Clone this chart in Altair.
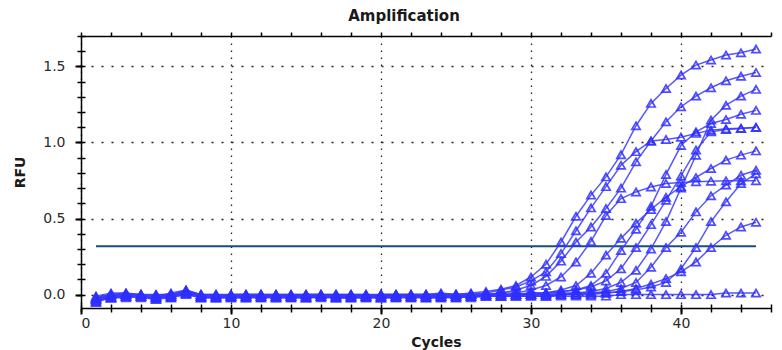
import altair as alt
import pandas as pd

cycles = list(range(1, 46))

curve_A = [-0.03, 0.00, 0.01, -0.01, 0.00, -0.01, 0.02, 0.00, -0.01, 0.00,
           0.00, -0.01, 0.00, 0.00, -0.01, 0.00, -0.01, 0.00, 0.00, -0.01,
           0.00, 0.00, 0.00, 0.01, 0.00,
           0.01, 0.02, 0.035, 0.06, 0.116, 0.20, 0.346, 0.515, 0.654, 0.774,
           0.92, 1.11, 1.257, 1.355, 1.443, 1.509, 1.542, 1.575, 1.59, 1.614]
curve_E = [-0.05, -0.01, 0.00, 0.00, -0.02, 0.00, 0.01, -0.01, 0.00, -0.01,
           -0.01, 0.00, -0.01, -0.01, 0.00, -0.01, 0.00, -0.01, -0.01, 0.00,
           -0.01, 0.00, -0.01, 0.00, 0.00, 0.00,
           0.01, 0.03, 0.05, 0.09, 0.15, 0.27, 0.42, 0.57, 0.71, 0.85, 0.94,
           1.01, 1.02, 1.035, 1.06, 1.08, 1.09, 1.093, 1.098]
curve_B = [-0.02, -0.02, -0.01, 0.00, -0.01, -0.02, 0.01, -0.01, -0.02, -0.01,
           -0.01, -0.02, -0.01, -0.01, -0.02, -0.01, -0.02, -0.01, -0.01, -0.02,
           -0.01, -0.01, -0.02, -0.01, -0.01, 0.00, 0.00,
           0.01, 0.03, 0.06, 0.12, 0.22, 0.346, 0.445, 0.566, 0.70, 0.873,
           1.01, 1.136, 1.235, 1.305, 1.36, 1.406, 1.436, 1.46]
curve_F = [-0.03, -0.01, 0.00, -0.01, -0.01, 0.01, 0.03, 0.00, -0.01, 0.00,
           0.00, 0.00, -0.01, 0.00, 0.00, 0.00, -0.01, 0.00, -0.01, 0.00,
           0.00, -0.01, 0.00, 0.00, 0.00, 0.00, 0.00, 0.01,
           0.01, 0.03, 0.06, 0.116, 0.215, 0.35, 0.52, 0.631, 0.675, 0.708,
           0.73, 0.737, 0.742, 0.745, 0.748, 0.748, 0.748]
curve_D = [-0.02, 0.00, -0.01, -0.01, -0.02, 0.00, 0.02, -0.01, -0.01, -0.01,
           -0.01, -0.01, 0.00, -0.01, -0.01, -0.01, 0.00, -0.01, -0.01, -0.01,
           -0.01, -0.01, -0.01, -0.01, 0.00, -0.01, 0.00, 0.00, 0.00, 0.01,
           0.01, 0.02,
           0.03, 0.06, 0.14, 0.29, 0.43, 0.58, 0.79, 0.98, 1.07, 1.125, 1.151,
           1.186, 1.211]
curve_H = [-0.04, -0.02, -0.01, -0.02, -0.03, -0.01, 0.01, -0.02, -0.02, -0.02,
           -0.02, -0.02, -0.02, -0.02, -0.02, -0.02, -0.02, -0.02, -0.02, -0.02,
           -0.02, -0.02, -0.02, -0.02, -0.02, -0.01, -0.01, -0.01, 0.00, 0.00,
           0.01, 0.03, 0.06, 0.14, 0.26, 0.37, 0.47, 0.56, 0.64, 0.71, 0.77,
           0.829, 0.884, 0.917, 0.945]
curve_G = [-0.01, 0.01, 0.01, 0.00, 0.00, 0.00, 0.02, 0.00, 0.00, 0.00,
           0.00, 0.00, 0.00, 0.00, 0.00, 0.00, 0.00, 0.00, 0.00, 0.00,
           0.00, 0.00, 0.00, 0.00, 0.00, 0.00, 0.00, 0.00, 0.00, 0.01, 0.01,
           0.02, 0.03,
           0.05, 0.09, 0.17, 0.31, 0.46, 0.62, 0.78, 0.95, 1.07, 1.085, 1.092,
           1.10]
curve_C = [-0.02, -0.01, 0.00, -0.01, -0.01, -0.01, 0.01, -0.01, -0.01, -0.01,
           -0.01, 0.00, -0.01, -0.01, -0.01, 0.00, -0.01, -0.01, 0.00, -0.01,
           -0.01, -0.01, 0.00, -0.01, -0.01, -0.01, 0.00, -0.01, 0.00, 0.00,
           0.00, 0.01, 0.01, 0.02,
           0.04, 0.08, 0.16, 0.30, 0.48, 0.70, 0.916, 1.147, 1.245, 1.305,
           1.349]
curve_I = [-0.03, -0.02, -0.01, 0.00, -0.02, -0.01, 0.02, -0.01, -0.02, -0.01,
           -0.02, -0.01, -0.02, -0.01, -0.02, -0.01, -0.02, -0.02, -0.01, -0.02,
           -0.01, -0.02, -0.01, -0.01, -0.02, -0.01, -0.01, -0.01, -0.01, 0.00,
           -0.01, 0.00, 0.00, 0.01,
           0.02, 0.04, 0.08, 0.18, 0.31, 0.41, 0.544, 0.65, 0.72, 0.785, 0.818]
curve_J = [-0.02, 0.00, 0.00, 0.00, -0.01, 0.00, 0.03, 0.00, 0.00, -0.01,
           0.00, 0.00, 0.00, -0.01, 0.00, 0.00, 0.00, 0.00, -0.01, 0.00,
           0.00, 0.00, 0.00, -0.01, 0.00, 0.00, 0.00, 0.00, 0.00, 0.00,
           0.00, 0.00, 0.01, 0.01, 0.01, 0.02,
           0.03, 0.05, 0.08, 0.17, 0.31, 0.48, 0.61, 0.73, 0.795]
curve_K = [-0.05, -0.02, -0.02, -0.01, -0.03, -0.02, 0.00, -0.02, -0.02, -0.02,
           -0.02, -0.01, -0.02, -0.02, -0.02, -0.01, -0.02, -0.02, -0.02, -0.02,
           -0.02, -0.01, -0.02, -0.02, -0.01, -0.02, -0.01, -0.01, -0.01, -0.01,
           -0.01, 0.00, 0.00, 0.00, 0.01,
           0.02, 0.04, 0.07, 0.105, 0.15, 0.215, 0.31, 0.39, 0.445, 0.476]
curve_L = [-0.04, -0.02, -0.01, -0.01, -0.02, -0.01, 0.01, -0.02, -0.01, -0.01,
           -0.01, -0.01, -0.01, -0.01, -0.01, -0.01, -0.01, -0.01, -0.01, -0.01,
           -0.01, -0.01, -0.01, -0.01, -0.01, -0.01, -0.01, -0.01, -0.01, -0.01,
           -0.01, -0.01, -0.01, -0.01, -0.01, 0.00, 0.00, 0.00, 0.00, 0.00,
           0.00, 0.00, 0.01, 0.01, 0.01]

curves = {"A": curve_A, "E": curve_E, "B": curve_B, "F": curve_F,
          "D": curve_D, "H": curve_H, "G": curve_G, "C": curve_C,
          "I": curve_I, "J": curve_J, "K": curve_K, "L": curve_L}

threshold = 0.318
threshold_start = 1
threshold_end = 45

x_major = [0, 10, 20, 30, 40]
x_minor = list(range(0, 47, 2))
y_major = [0.0, 0.5, 1.0, 1.5]
y_minor = [round(i * 0.1, 1) for i in range(0, 18)]

rows = []
for name, vals in curves.items():
    assert len(vals) == len(cycles), name
    for c, v in zip(cycles, vals):
        rows.append({"well": name, "cycle": c, "rfu": v})
df = pd.DataFrame(rows)
thr = pd.DataFrame({"x": [threshold_start], "x2": [threshold_end], "y": [threshold]})

FONT = "DejaVu Sans"
xscale = alt.Scale(domain=[0, 46], nice=False, zero=False)
yscale = alt.Scale(domain=[-0.088, 1.70], nice=False, zero=False)

main_x = alt.Axis(orient="bottom", values=x_major, grid=True, gridDash=[1.5, 5.5],
                  gridColor="#222222", gridWidth=1.3, domainColor="black", domainWidth=1.5,
                  tickColor="black", tickSize=6, tickWidth=2, labelFont=FONT, labelFontSize=14,
                  labelColor="#2a2a2a", labelPadding=2, title="Cycles", titleFont=FONT,
                  titleFontSize=14, titleFontWeight="bold", titleColor="#1a1a1a",
                  titlePadding=5, titleX=355)
minor_x = alt.Axis(orient="bottom", values=x_minor, grid=False, domain=False, labels=False,
                   ticks=True, tickSize=8, offset=-4, tickWidth=1.5, tickColor="black",
                   title=None)
top_x = alt.Axis(orient="top", values=x_minor, grid=False, domain=True, domainColor="black",
                 domainWidth=1.5, labels=False, ticks=True, tickSize=4, tickWidth=1.5,
                 tickColor="black", title=None)
main_y = alt.Axis(orient="left", values=y_major, format=".1f", grid=True, gridDash=[2, 8],
                  gridColor="#222222", gridWidth=1.3, domainColor="black", domainWidth=1.5,
                  tickColor="black", tickSize=6, tickWidth=2, labelFont=FONT, labelFontSize=14,
                  labelColor="#2a2a2a", labelPadding=10, title="RFU", titleFont=FONT,
                  titleFontSize=14, titleFontWeight="bold", titleColor="#1a1a1a",
                  titlePadding=15)
minor_y = alt.Axis(orient="left", values=y_minor, grid=False, domain=False, labels=False,
                   ticks=True, tickSize=8, offset=-4, tickWidth=1.5, tickColor="black",
                   title=None)

rule = alt.Chart(thr).mark_rule(color="#1b4f7c", strokeWidth=2).encode(
    x=alt.X("x:Q", scale=xscale, axis=top_x),
    x2="x2:Q",
    y=alt.Y("y:Q", scale=yscale, axis=None),
)

lines = alt.Chart(df).mark_line(color="#3a3aff", strokeWidth=1.5, opacity=0.85).encode(
    x=alt.X("cycle:Q", scale=xscale, axis=main_x),
    y=alt.Y("rfu:Q", scale=yscale, axis=main_y),
    detail="well:N",
)

points = alt.Chart(df).mark_point(shape="triangle-up", filled=False, size=70,
                                  color="#2f2fff", strokeWidth=1.7, opacity=0.85).encode(
    x=alt.X("cycle:Q", scale=xscale, axis=minor_x),
    y=alt.Y("rfu:Q", scale=yscale, axis=minor_y),
    detail="well:N",
)

chart = alt.layer(rule, lines, points).resolve_axis(x="independent", y="independent").properties(
    width=690, height=272,
    padding={"left": 73, "top": 28, "right": 2, "bottom": 50},
    autosize=alt.AutoSizeParams(type="none"),
    title=alt.TitleParams("Amplification", font=FONT, fontSize=15, fontWeight="bold",
                          color="#1a1a1a", dx=-22, offset=7, anchor="middle"),
).configure_view(stroke=None)

chart.save("out.html", embed_options={"renderer": "svg", "actions": False})
